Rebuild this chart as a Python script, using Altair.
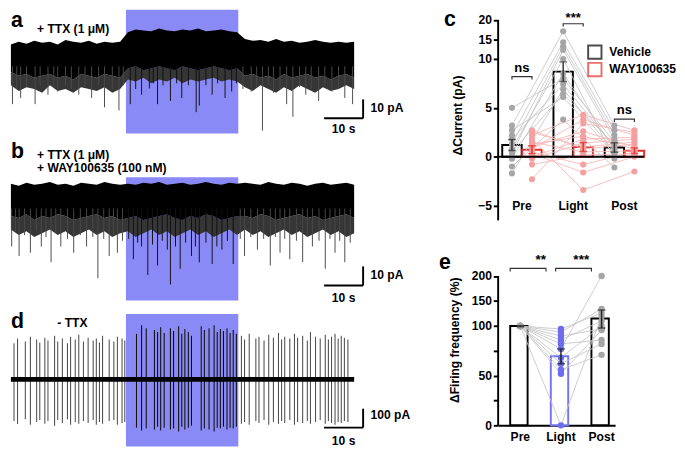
import altair as alt
import pandas as pd

FONT = "Liberation Sans"
LIGHT_BLUE = "#8a8af6"
GRAY_PT = "#a6a6a6"
GRAY_LN = "#c6c6c6"
RED = "#e2312c"
RED_PT = "#f5a0a0"
RED_LN = "#f6b6b6"
BLUE_PT = "#6c6cec"
BLUE_BAR = "#7474ee"

# ---------------- traces (time in s, current in pA) ----------------
GRID_T = [0, 2, 4, 6, 8, 10, 12, 14, 16, 18, 20, 22, 24, 26, 28,
          30, 32, 34, 36, 38, 40, 42, 44, 46, 48, 50, 52, 54, 56, 58,
          60, 62, 64, 66, 68, 70, 72, 74, 76, 78, 80, 82, 84, 86, 88]
LIGHT_WIN = [29.5, 58.3]
X_DOMAIN = [0, 104.1]
SCALEBAR_S = [80.3, 90.3]

# panel a: + TTX
a_top = [1.5, 3.0, 2.0, 3.5, 2.5, 3.0, 1.5, 4.0, 3.0, 2.5, 3.5, 2.0, 3.0, 2.5, 3.0,
         8.0, 9.5, 9.0, 8.5, 10.0, 9.0, 8.5, 9.5, 9.0, 10.0, 8.5, 9.0, 9.5, 8.5, 8.0,
         4.5, 3.5, 4.0, 3.0, 4.5, 3.0, 3.5, 2.5, 3.0, 4.0, 3.0, 2.5, 3.0, 2.5, 3.0]
a_bot = [-13, -15, -14, -16, -15, -14, -16, -15, -17, -14, -15, -16, -14, -15, -16,
         -11, -10, -12, -11, -10, -11, -12, -10, -11, -12, -11, -10, -11, -12, -11,
         -15, -14, -16, -15, -17, -14, -16, -15, -14, -16, -15, -17, -15, -14, -16]
a_fringe = [-20, -23, -21, -22, -24, -20, -23, -22, -24, -21, -22, -23, -21, -24, -22,
            -17, -18, -16, -19, -17, -18, -16, -19, -17, -18, -17, -16, -18, -17, -18,
            -21, -23, -20, -22, -24, -21, -23, -20, -22, -24, -21, -23, -22, -20, -22]
a_ev_t = [0.4, 1.5, 2.5, 4.0, 6.2, 7.5, 9.5, 11.0, 12.0, 14.0, 15.5, 17.4, 19.0, 20.7, 22.5,
          24.0, 26.0, 27.7, 28.8,
          30.6, 32.0, 33.5, 35.5, 36.5, 37.6, 39.0, 40.9, 42.5, 43.8, 45.5, 47.5, 48.3, 50.0,
          51.6, 53.0, 54.9, 56.6, 57.8,
          59.5, 61.6, 63.0, 64.5, 66.0, 67.3, 69.0, 70.7, 72.3, 74.0, 75.6, 77.0, 78.9, 80.5,
          82.3, 84.0, 85.6, 87.6]
a_ev_y = [-30, -22, -26.7, -21, -30, -20, -25, -21, -23.3, -20, -22, -25, -21, -26.7, -20,
          -31.7, -22, -33.3, -20,
          -30, -22, -25, -21.7, -19, -30, -20, -28.3, -19, -26.7, -20, -34.2, -30.8, -20,
          -25, -19, -26.7, -23.3, -19,
          -22, -23.3, -21, -44, -20, -24, -22, -30, -36.7, -21, -25, -22, -28.3, -20,
          -23.3, -21, -26.7, -30]

# panel b: + TTX + WAY100635
b_top = [3, 2, 3.5, 2.5, 3, 4, 2.5, 3, 2, 3.5, 3, 2.5, 4, 3, 2.5,
         3, 2.5, 3.5, 3, 4, 2.5, 3, 3.5, 2.5, 3, 4, 3, 2.5, 3.5, 3,
         3.5, 3, 2.5, 4, 3, 2.5, 3.5, 3, 2, 3, 3.5, 2.5, 3, 3.5, 2.5]
b_bot = [-14, -15, -13, -16, -14, -15, -13, -14, -16, -15, -14, -13, -15, -14, -16,
         -15, -14, -16, -15, -14, -13, -15, -16, -14, -15, -13, -14, -16, -15, -14,
         -14, -15, -13, -14, -16, -15, -14, -13, -15, -14, -16, -15, -14, -13, -15]
b_fringe = [-21, -24, -22, -25, -23, -21, -24, -22, -25, -23, -21, -24, -22, -25, -23,
            -22, -25, -23, -21, -24, -22, -25, -23, -21, -24, -22, -25, -23, -21, -24,
            -21, -24, -22, -25, -23, -21, -24, -22, -25, -23, -21, -24, -22, -25, -23]
b_ev_t = [0.2, 1.2, 2.1, 3.5, 5.0, 6.5, 7.8, 9.0, 10.3, 11.5, 12.8, 14.5, 16.1, 17.8, 19.4,
          21.0, 22.3, 23.8, 25.2, 26.3, 27.3, 28.6,
          30.2, 31.4, 32.5, 33.5, 35.1, 36.3, 37.6, 38.8, 40.1, 40.9, 42.2, 43.4, 44.8, 46.3,
          47.3, 48.3, 50.0, 51.6, 52.8, 54.1, 55.5, 57.0,
          58.8, 59.9, 61.5, 63.2, 64.8, 66.5, 67.8, 69.0, 70.2, 71.5, 73.2, 74.8, 76.0, 77.3,
          79.0, 80.6, 81.8, 83.1, 84.3, 85.6, 87.0]
b_ev_y = [-30, -22, -35, -24, -33.3, -22, -30, -25, -38.3, -23, -30, -26, -33.3, -24, -30,
          -25, -46.7, -26, -35, -24, -33.3, -27,
          -26, -36.7, -28, -30, -45, -29, -40, -27, -31.7, -50, -30, -41.7, -28, -35,
          -30, -38.3, -28, -39.2, -30, -31.7, -27, -39.2,
          -26, -35, -25, -31.7, -26, -40, -25, -33.3, -26, -36.7, -27, -38.3, -25, -30,
          -27, -41.7, -26, -33.3, -27, -38.3, -28]

# panel d: - TTX (action currents)
d_sp_t = [0.8, 1.7, 3.7, 5.0, 6.6, 7.4, 8.7, 9.5, 11.2, 12.0, 13.2, 14.5, 15.3, 16.5, 17.4,
          18.6, 19.8, 21.1, 21.9, 22.7, 23.5, 25.2, 26.4, 27.3, 28.5, 29.2,
          32.2, 33.5, 34.7, 36.8, 37.6, 38.4, 39.3, 40.9, 41.7, 43.0, 43.8, 44.6, 45.5, 46.3,
          48.8, 49.6, 50.8, 52.1, 52.9, 53.7, 54.5, 55.4, 56.2, 57.0, 57.8,
          59.1, 59.9, 61.1, 62.8, 63.6, 64.9, 66.1, 67.3, 68.6, 69.4, 70.2, 71.5, 72.7, 73.5,
          74.8, 76.0, 76.8, 78.1, 79.3, 80.6, 81.4, 82.2, 83.1, 83.9, 84.7, 85.5, 86.4]
d_sp_top = [190, 215, 200, 225, 210, 195, 220, 205, 230, 200, 215, 190, 225, 210, 235,
            200, 220, 205, 215, 195, 230, 210, 200, 225, 215, 205,
            240, 285, 270, 260, 250, 275, 245, 270, 255, 280, 240, 265, 250, 230,
            280, 260, 270, 285, 250, 265, 255, 270, 245, 260, 240,
            230, 210, 240, 215, 225, 205, 235, 220, 245, 210, 225, 215, 240, 220,
            230, 205, 250, 225, 215, 235, 210, 225, 240, 215, 230, 220, 210]
d_sp_bot = [-220, -235, -210, -240, -225, -215, -235, -220, -245, -215, -230, -210, -240, -225, -235,
            -220, -230, -215, -240, -225, -235, -220, -215, -240, -230, -225,
            -255, -270, -260, -265, -250, -270, -255, -265, -260, -275, -250, -265, -255, -245,
            -270, -260, -265, -275, -255, -260, -250, -265, -255, -260, -250,
            -235, -225, -240, -220, -230, -215, -240, -225, -235, -220, -230, -215, -240, -225,
            -230, -220, -235, -225, -215, -235, -220, -230, -240, -225, -230, -220, -225]

# ---------------- panel c: delta current (pA) ----------------
CONDS = ["Pre", "Light", "Post"]
GROUPS = ["Vehicle", "WAY100635"]
veh_pre = [5.0, 3.2, 2.7, 2.2, 1.8, 1.3, 0.8, 0.3, -0.2, -1.0, -1.7, 0.5]
veh_light = [8.0, 17.1, 6.1, 14.3, 7.4, 13.2, 10.0, 12.3, 8.5, 3.8, 6.9, 6.4]
veh_post = [1.5, 3.2, 0.3, 2.7, 1.0, 2.2, -0.2, 1.8, 0.8, -1.1, 0.5, 1.3]
way_pre = [2.7, 2.2, 1.8, 1.3, 0.8, 0.3, -0.2, -0.8, -2.3, 1.0, 0.5, 2.5, 0.0, 1.5]
way_light = [0.8, 4.3, -3.4, 2.1, 3.8, -1.6, 1.4, 0.2, 3.4, 2.6, -0.8, 1.0, 1.8, 0.5]
way_post = [1.3, 2.7, -1.5, 0.8, 2.2, 0.0, 1.8, 0.3, 2.5, 1.0, 0.5, 1.5, 2.0, 0.6]
c_mean = {"Vehicle": [1.2, 8.7, 0.95], "WAY100635": [0.72, 1.0, 0.62]}
c_sem = {"Vehicle": [0.56, 1.0, 0.48], "WAY100635": [0.4, 0.45, 0.29]}
c_sig = ["ns", "***", "ns"]

# ---------------- panel e: delta firing frequency (%) ----------------
e_pre = [100, 100, 100, 100, 100, 100, 100, 100, 100, 100, 100]
e_light = [97, 94, 90, 86, 82, 77, 68, 62, 56, 52, 0]
e_post = [126, 134, 97, 110, 86, 200, 100, 82, 71, 96, 120]
e_mean = [100, 69.5, 115]
e_sem = [0.6, 7.5, 17]
e_sig = ["**", "***"]

one = pd.DataFrame({"k": [0]})


def trace_panel(height, ydom, rect_y, labels, bar_y, bar_lbl, band=None, events=None,
                spikes=None):
    xs = alt.Scale(domain=X_DOMAIN, nice=False, zero=False)
    ys = alt.Scale(domain=ydom, nice=False, zero=False)

    def X(f):
        return alt.X(f"{f}:Q", scale=xs, axis=None)

    def Y(f):
        return alt.Y(f"{f}:Q", scale=ys, axis=None)

    layers = []
    rect_df = pd.DataFrame({"t0": [LIGHT_WIN[0]], "t1": [LIGHT_WIN[1]],
                            "y0": [rect_y[0]], "y1": [rect_y[1]]})
    layers.append(alt.Chart(rect_df).mark_rect(color=LIGHT_BLUE).encode(
        x=X("t0"), x2="t1", y=Y("y0"), y2="y1"))
    if band is not None:
        bdf = pd.DataFrame({"t": GRID_T, "top": band[0], "bot": band[1], "fr": band[2]})
        layers.append(alt.Chart(bdf).mark_area(color="#363636").encode(
            x=X("t"), y=Y("bot"), y2="fr"))
        layers.append(alt.Chart(bdf).mark_area(color="black").encode(
            x=X("t"), y=Y("top"), y2="bot"))
        edf = pd.DataFrame({"t": events[0], "y": events[1]})
        edf["base"] = -10.0
        edf["inside"] = [(LIGHT_WIN[0] <= t <= LIGHT_WIN[1]) for t in edf["t"]]
        layers.append(alt.Chart(edf).mark_rule(strokeWidth=1).encode(
            x=X("t"), y=Y("y"), y2="base",
            color=alt.condition("datum.inside", alt.value("#111111"), alt.value("#4a4a4a"))))
    if spikes is not None:
        sdf = pd.DataFrame({"t": spikes[0], "top": spikes[1], "bot": spikes[2]})
        sdf["inside"] = [(LIGHT_WIN[0] <= t <= LIGHT_WIN[1]) for t in sdf["t"]]
        layers.append(alt.Chart(sdf).mark_rule(strokeWidth=1.1).encode(
            x=X("t"), y=Y("top"), y2="bot",
            color=alt.condition("datum.inside", alt.value("#111111"), alt.value("#505050"))))
        base_df = pd.DataFrame({"t0": [0], "t1": [88], "y": [0]})
        layers.append(alt.Chart(base_df).mark_rule(color="black", strokeWidth=5).encode(
            x=X("t0"), x2="t1", y=Y("y")))
    # scale bar
    sb = pd.DataFrame({"t0": [SCALEBAR_S[0]], "t1": [SCALEBAR_S[1]],
                       "y0": [bar_y[0]], "y1": [bar_y[1]]})
    layers.append(alt.Chart(sb).mark_rule(color="black", strokeWidth=2).encode(
        x=X("t0"), x2="t1", y=Y("y0")))
    layers.append(alt.Chart(sb).mark_rule(color="black", strokeWidth=2).encode(
        x=X("t1"), y=Y("y0"), y2="y1"))
    lab = pd.DataFrame({"x": [SCALEBAR_S[1] + 1.9, (SCALEBAR_S[0] + SCALEBAR_S[1]) / 2],
                        "y": [bar_y[2], bar_y[3]], "s": [bar_lbl, "10 s"],
                        "al": ["left", "center"]})
    for al in ["left", "center"]:
        layers.append(alt.Chart(lab[lab.al == al]).mark_text(
            align=al, baseline="middle", font=FONT, fontSize=12.5, fontWeight="bold",
            color="black").encode(x=X("x"), y=Y("y"), text="s:N"))
    for (s, x, y, size) in labels:
        ldf = pd.DataFrame({"x": [x], "y": [y], "s": [s]})
        layers.append(alt.Chart(ldf).mark_text(
            align="left", baseline="middle", font=FONT, fontSize=size, fontWeight="bold",
            color="black").encode(x=X("x"), y=Y("y"), text="s:N"))
    return alt.layer(*layers).properties(width=420, height=height)


panel_a = trace_panel(
    132, [-47.5, 20], (20, -45.5),
    [("a", 0, 14.5, 22), ("+ TTX (1 μM)", 6.7, 9.5, 12.5)],
    (-37.5, -27.5, -32, -43.0), "10 pA",
    band=(a_top, a_bot, a_fringe), events=(a_ev_t, a_ev_y))
panel_b = trace_panel(
    169, [-58.5, 27.5], (6.5, -58.5),
    [("b", 0, 20.0, 22), ("+ TTX (1 μM)", 6.7, 18.0, 12.5),
     ("+ WAY100635 (100 nM)", 6.7, 11.0, 12.5)],
    (-50.5, -40.5, -45, -57.0), "10 pA",
    band=(b_top, b_bot, b_fringe), events=(b_ev_t, b_ev_y))
panel_d = trace_panel(
    147, [-355, 395], (345, -355),
    [("d", 0, 305, 22), ("- TTX", 11.9, 295, 12.5)],
    (-255, -155, -190, -325), "100 pA",
    spikes=(d_sp_t, d_sp_top, d_sp_bot))

left = alt.vconcat(panel_a, panel_b, panel_d, spacing=0)

AX_STYLE = dict(grid=False, domain=False, tickColor="black", tickWidth=2, tickSize=5,
                labelFont=FONT, labelFontSize=12.5, labelFontWeight="bold",
                labelColor="black", titleFont=FONT, titleFontSize=12.5,
                titleFontWeight="bold", titleColor="black", labelPadding=2)

# ---------------- panel c ----------------
rows = []
for g, lists in [("Vehicle", [veh_pre, veh_light, veh_post]),
                 ("WAY100635", [way_pre, way_light, way_post])]:
    for ci, (c, vals) in enumerate(zip(CONDS, lists)):
        for i, v in enumerate(vals):
            rows.append({"cond": c, "ci": ci, "group": g, "subj": f"{g}{i}", "v": v})
c_pts = pd.DataFrame(rows)
brow = []
for g in GROUPS:
    for ci, c in enumerate(CONDS):
        m, s = c_mean[g][ci], c_sem[g][ci]
        brow.append({"cond": c, "group": g, "m": m, "lo": m - s, "hi": m + s, "zero": 0})
c_bars = pd.DataFrame(brow)

C_H = 218
c_ys = alt.Scale(domain=[-6.5, 10, 20, 22.7], range=[C_H, 51, 10.8, 0], nice=False,
                 zero=False)
c_xs = alt.Scale(domain=CONDS, paddingInner=0.23, paddingOuter=0.04, align=1)
c_os = alt.Scale(domain=GROUPS, paddingInner=0.03, paddingOuter=0)
c_yaxis = alt.Axis(title="ΔCurrent (pA)", values=[-5, 0, 5, 10, 15, 20], titlePadding=14,
                   **AX_STYLE)
cX = alt.X("cond:N", sort=CONDS, scale=c_xs, axis=None)
cY = lambda f: alt.Y(f"{f}:Q", scale=c_ys, axis=c_yaxis)
cO = alt.XOffset("group:N", sort=GROUPS, scale=c_os)
is_veh = "datum.group == 'Vehicle'"

c_axisline = alt.Chart(pd.DataFrame({"y0": [-6.5], "y1": [20]})).mark_rule(
    color="black", strokeWidth=2).encode(x=alt.value(0), y=cY("y0"), y2="y1")
c_bar = alt.Chart(c_bars).mark_bar(fill="white", strokeWidth=2).encode(
    x=cX, xOffset=cO, y=cY("m"), y2="zero",
    stroke=alt.condition(is_veh, alt.value("black"), alt.value(RED)))
c_zero = alt.Chart(pd.DataFrame({"z": [0]})).mark_rule(color="black", strokeWidth=2).encode(
    y=cY("z"))
c_lines = []
for g, col in [("Vehicle", GRAY_LN), ("WAY100635", RED_LN)]:
    c_lines.append(alt.Chart(c_pts[c_pts.group == g]).mark_line(
        color=col, strokeWidth=0.9).encode(
        x=cX, xOffset=cO, y=cY("v"), detail="subj:N", order="ci:Q"))
c_points = alt.Chart(c_pts).mark_circle(size=40, opacity=1).encode(
    x=cX, xOffset=cO, y=cY("v"),
    color=alt.condition(is_veh, alt.value(GRAY_PT), alt.value(RED_PT)))
c_err = []
for g, col in [("Vehicle", "#333333"), ("WAY100635", RED)]:
    sub = c_bars[c_bars.group == g]
    c_err.append(alt.Chart(sub).mark_rule(color=col, strokeWidth=1.5).encode(
        x=cX, xOffset=cO, y=cY("lo"), y2="hi"))
    for f in ["lo", "hi"]:
        c_err.append(alt.Chart(sub).mark_tick(color=col, thickness=1.5, size=8).encode(
            x=cX, xOffset=cO, y=cY(f)))
brk = []
levels = [(8.2, 0.3), (19.05, 0.7), (3.85, 0.3)]
for ci, c in enumerate(CONDS):
    lvl, drop = levels[ci]
    for k, (g, yv) in enumerate([("Vehicle", lvl - drop), ("Vehicle", lvl),
                                 ("WAY100635", lvl), ("WAY100635", lvl - drop)]):
        brk.append({"cond": c, "group": g, "y": yv, "o": k})
c_brk = alt.Chart(pd.DataFrame(brk)).mark_line(color="#333333", strokeWidth=1.2).encode(
    x=cX, xOffset=cO, y=cY("y"), detail="cond:N", order="o:Q")
sig_df = pd.DataFrame({"cond": CONDS, "s": c_sig, "y": [9.1, 20.4, 4.8]})
c_sigt = alt.Chart(sig_df).mark_text(font=FONT, fontSize=13.5, fontWeight="bold",
                                     baseline="middle", color="black").encode(
    x=cX, y=cY("y"), text="s:N")
# category labels sit level with the -5 tick
c_xlab = alt.Chart(pd.DataFrame({"cond": CONDS, "y": [-5, -5, -5]})).mark_text(
    font=FONT, fontSize=12.5, fontWeight="bold", baseline="middle", color="black").encode(
    x=cX, y=cY("y"), text="cond:N")
c_letter = alt.Chart(one).mark_text(text="c", font=FONT, fontSize=22, fontWeight="bold",
                                    color="black", align="center", baseline="middle").encode(
    x=alt.value(-50), y=alt.value(10))
# legend (annotation)
c_legend = []
for g, col, yy in [("Vehicle", "black", 44), ("WAY100635", RED, 62)]:
    c_legend.append(alt.Chart(one).mark_square(size=190, filled=True, fill="white",
                                               stroke=col, strokeWidth=2).encode(
        x=alt.value(100), y=alt.value(yy)))
    c_legend.append(alt.Chart(one).mark_text(text=g, font=FONT, fontSize=12.5,
                                             fontWeight="bold", color="black", align="left",
                                             baseline="middle").encode(
        x=alt.value(115), y=alt.value(yy)))
panel_c = alt.layer(c_bar, *c_lines, c_points, *c_err, c_zero, c_axisline, c_brk, c_sigt,
                    c_xlab, c_letter, *c_legend).properties(width=151, height=C_H)

# ---------------- panel e ----------------
erows = []
for ci, (c, vals) in enumerate(zip(CONDS, [e_pre, e_light, e_post])):
    for i, v in enumerate(vals):
        erows.append({"cond": c, "ci": ci, "subj": f"s{i}", "v": v})
e_pts = pd.DataFrame(erows)
e_bars = pd.DataFrame({"cond": CONDS, "m": e_mean,
                       "lo": [m - s for m, s in zip(e_mean, e_sem)],
                       "hi": [m + s for m, s in zip(e_mean, e_sem)], "zero": [0, 0, 0]})
E_H = 177
e_ys = alt.Scale(domain=[0, 100, 200, 243.4], range=[E_H, 74.3, 22.5, 0], nice=False,
                 zero=False)
e_xs = alt.Scale(domain=CONDS, paddingInner=0.5, paddingOuter=0.19, align=0.78)
e_xaxis = alt.Axis(title=None, domain=True, domainColor="black", domainWidth=2, ticks=False,
                   labelAngle=0, labelFont=FONT, labelFontSize=12.5, labelFontWeight="bold",
                   labelColor="black", labelPadding=6)
e_yaxis = alt.Axis(title="ΔFiring frequency (%)", values=[0, 25, 50, 75, 100, 150, 200],
                   labelExpr="(datum.value == 25 || datum.value == 75) ? '' : datum.label",
                   titlePadding=10, **AX_STYLE)
eX = alt.X("cond:N", sort=CONDS, scale=e_xs, axis=e_xaxis)
eY = lambda f: alt.Y(f"{f}:Q", scale=e_ys, axis=e_yaxis)
is_light = "datum.cond == 'Light'"
e_axisline = alt.Chart(pd.DataFrame({"y0": [0], "y1": [200]})).mark_rule(
    color="black", strokeWidth=2).encode(x=alt.value(0), y=eY("y0"), y2="y1")
e_bar = alt.Chart(e_bars).mark_bar(fill="white", strokeWidth=2).encode(
    x=eX, y=eY("m"), y2="zero",
    stroke=alt.condition(is_light, alt.value(BLUE_BAR), alt.value("black")))
e_line = alt.Chart(e_pts).mark_line(color=GRAY_LN, strokeWidth=0.9).encode(
    x=eX, y=eY("v"), detail="subj:N", order="ci:Q")
e_point = alt.Chart(e_pts).mark_circle(size=44, opacity=1).encode(
    x=eX, y=eY("v"), color=alt.condition(is_light, alt.value(BLUE_PT), alt.value(GRAY_PT)))
e_err = [alt.Chart(e_bars).mark_rule(color="#222222", strokeWidth=1.5).encode(
    x=eX, y=eY("lo"), y2="hi")]
for f in ["lo", "hi"]:
    e_err.append(alt.Chart(e_bars).mark_tick(color="#222222", thickness=1.5, size=8).encode(
        x=eX, y=eY(f)))
# brackets, with a small gap on either side of the Light column
ebrk = []
for b, (c1, c2, g1, g2) in enumerate([("Pre", "Light", 0, -5), ("Light", "Post", 5, 0)]):
    for k, (c, yv, gap) in enumerate([(c1, 209, g1), (c1, 215, g1), (c2, 215, g2),
                                      (c2, 209, g2)]):
        ebrk.append({"cond": c, "b": b, "y": yv, "o": k, "gap": gap})
e_brk = alt.Chart(pd.DataFrame(ebrk)).mark_line(color="#333333", strokeWidth=1.2).encode(
    x=eX, y=eY("y"), detail="b:N", order="o:Q",
    xOffset=alt.XOffset("gap:Q", scale=alt.Scale(domain=[-10, 10], range=[-10, 10])))
e_sig_df = pd.DataFrame({"cond": ["Pre", "Light"], "s": e_sig, "y": [231, 231]})
e_sigt = alt.Chart(e_sig_df).mark_text(font=FONT, fontSize=14, fontWeight="bold",
                                       baseline="middle", color="black", dx=21).encode(
    x=eX, y=eY("y"), text="s:N")
e_letter = alt.Chart(one).mark_text(text="e", font=FONT, fontSize=22, fontWeight="bold",
                                    color="black", align="center", baseline="middle").encode(
    x=alt.value(-55), y=alt.value(8))
panel_e = alt.layer(e_bar, e_line, e_point, *e_err, e_axisline, e_brk, e_sigt,
                    e_letter).properties(width=121, height=E_H)

right = alt.vconcat(panel_c, panel_e, spacing=31)

chart = alt.hconcat(left, right, spacing=22).properties(
    padding={"top": -7, "left": 0, "right": 0, "bottom": 0}).configure_view(stroke=None)

chart.save("out.html", embed_options={"renderer": "svg", "actions": False})
